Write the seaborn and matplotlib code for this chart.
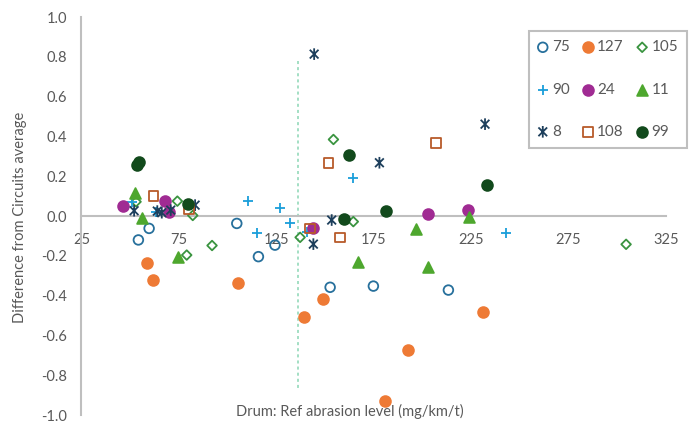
import numpy as np
import pandas as pd
import matplotlib
matplotlib.use('Agg')
import matplotlib.pyplot as plt
import seaborn as sns
from matplotlib.path import Path

# values (x = drum ref abrasion level, y = difference from circuits average)
x75 = [54.2, 59.7, 104.7, 115.8, 124.3, 152.6, 174.8, 213.3]
y75 = [-0.12, -0.062, -0.037, -0.204, -0.146, -0.358, -0.352, -0.372]

x127 = [58.5, 61.9, 105.5, 139.4, 149.1, 180.8, 192.8, 231.0]
y127 = [-0.238, -0.32, -0.335, -0.506, -0.416, -0.928, -0.673, -0.481]

x105 = [53.0, 74.2, 82.1, 79.0, 92.0, 137.2, 154.3, 164.5, 304.5]
y105 = [0.072, 0.075, 0.003, -0.196, -0.148, -0.107, 0.385, -0.028, -0.142]

x90 = [50.8, 63.3, 110.3, 115.2, 126.9, 132.0, 140.6, 164.5, 242.9]
y90 = [0.072, 0.022, 0.075, -0.087, 0.039, -0.037, -0.08, 0.189, -0.087]

x24 = [46.5, 67.9, 70.1, 143.7, 203.0, 223.6]
y24 = [0.05, 0.077, 0.022, -0.062, 0.01, 0.03]

x11 = [52.5, 55.9, 74.7, 167.1, 196.5, 203.0, 224.1]
y11 = [0.114, -0.01, -0.208, -0.233, -0.067, -0.258, -0.005]

x8 = [52.0, 63.9, 66.2, 70.8, 83.3, 144.4, 144.0, 153.4, 177.9, 232.1]
y8 = [0.027, 0.025, 0.017, 0.03, 0.055, 0.814, -0.141, -0.02, 0.268, 0.462]

x108 = [61.9, 80.3, 142.3, 151.7, 157.7, 207.0]
y108 = [0.1, 0.034, -0.062, 0.268, -0.107, 0.368]

x99 = [53.6, 54.7, 79.8, 159.8, 162.4, 181.3, 233.0]
y99 = [0.256, 0.273, 0.059, -0.015, 0.307, 0.025, 0.156]

x_ticks = [25, 75, 125, 175, 225, 275, 325]
y_ticks = [-1.0, -0.8, -0.6, -0.4, -0.2, 0.0, 0.2, 0.4, 0.6, 0.8, 1.0]
y_labels = ['-1.0', '-0.8', '-0.6', '-0.4', '-0.2', '0.0', '0.2', '0.4', '0.6', '0.8', '1.0']

# dashed reference line
ref_x = [136, 136]
ref_y = [0.78, -0.88]

# Excel style star: X with a vertical bar
M, L = Path.MOVETO, Path.LINETO
star = Path([(0, -1), (0, 1), (-0.75, -0.75), (0.75, 0.75), (-0.75, 0.75), (0.75, -0.75)],
            [M, L, M, L, M, L])

# label, x, y, marker, colour, filled, size
series = [
    ('75', x75, y75, 'o', '#27709C', False, 48),
    ('127', x127, y127, 'o', '#EE7A35', True, 60),
    ('105', x105, y105, 'D', '#3A9440', False, 24),
    ('90', x90, y90, '+', '#1A9EDA', None, 60),
    ('24', x24, y24, 'o', '#A02B93', True, 60),
    ('11', x11, y11, '^', '#4EA72E', True, 60),
    ('8', x8, y8, star, '#1D3F5C', False, 70),
    ('108', x108, y108, 's', '#B85A2A', False, 48),
    ('99', x99, y99, 'o', '#124A1C', True, 60),
]

sns.set_style('white')
plt.rcParams['font.family'] = ['Lato', 'DejaVu Sans']
plt.rcParams['axes.unicode_minus'] = False

fig = plt.figure(figsize=(6.93, 4.26), dpi=100)
ax = fig.add_axes([0.1176, 0.0258, 0.8435, 0.934])

ax.plot(ref_x, ref_y, color='#8AD6B4', lw=1.1, ls=(0, (2, 2)), zorder=1)

for lab, xs, ys, mk, col, fill, sz in series:
    kw = dict(marker=mk, s=sz, linewidth=1.3, color=col)
    if fill is True:
        kw['edgecolor'] = col
    elif fill is False:
        kw['facecolor'] = 'none'
        kw['edgecolor'] = col
    sns.scatterplot(x=xs, y=ys, ax=ax, label=lab, zorder=3, **kw)

ax.set_xlim(25, 325)
ax.set_ylim(-1, 1)
ax.set_xticks(x_ticks)
ax.set_xticks([50, 100, 150, 200, 250, 300], minor=True)
ax.set_yticks(y_ticks, y_labels)
ax.set_yticks([-0.9, -0.7, -0.5, -0.3, -0.1, 0.1, 0.3, 0.5, 0.7, 0.9], minor=True)

for s in ['top', 'right']:
    ax.spines[s].set_visible(False)
ax.spines['bottom'].set_position(('data', 0))
for s in ['left', 'bottom']:
    ax.spines[s].set_color('#BFBFBF')
    ax.spines[s].set_linewidth(1.5)

ax.tick_params(which='major', direction='inout', length=7.2, width=1.2, color='#BFBFBF',
               labelcolor='#595959', labelsize=10.5)
ax.tick_params(which='minor', direction='out', length=3.5, width=1.2, color='#BFBFBF')
ax.tick_params(axis='x', which='major', pad=8.6)
ax.tick_params(axis='y', which='major', pad=6.8)

ax.set_xlabel('Drum: Ref abrasion level (mg/km/t)', fontsize=10.5, color='#595959', va='center')
ax.xaxis.set_label_coords(0.459, 0.008)
ax.set_ylabel('Difference from Circuits average', fontsize=10.5, color='#595959', va='center')
ax.yaxis.set_label_coords(-0.105, 0.497)

handles, labels = ax.get_legend_handles_labels()
hmap = dict(zip(labels, handles))
order = ['75', '90', '8', '127', '24', '108', '105', '11', '99']
leg = ax.legend([hmap[k] for k in order], order, ncol=3, loc='upper left',
                bbox_to_anchor=(0.7656, 0.9648), borderaxespad=0, fancybox=False,
                fontsize=11, handlelength=0.6, handletextpad=0.3, columnspacing=0.9,
                labelspacing=1.85, borderpad=0.6, edgecolor='#BFBFBF', framealpha=1)
leg.get_frame().set_linewidth(1.5)
for t in leg.get_texts():
    t.set_color('#595959')

fig.savefig('out.png', dpi=100)
